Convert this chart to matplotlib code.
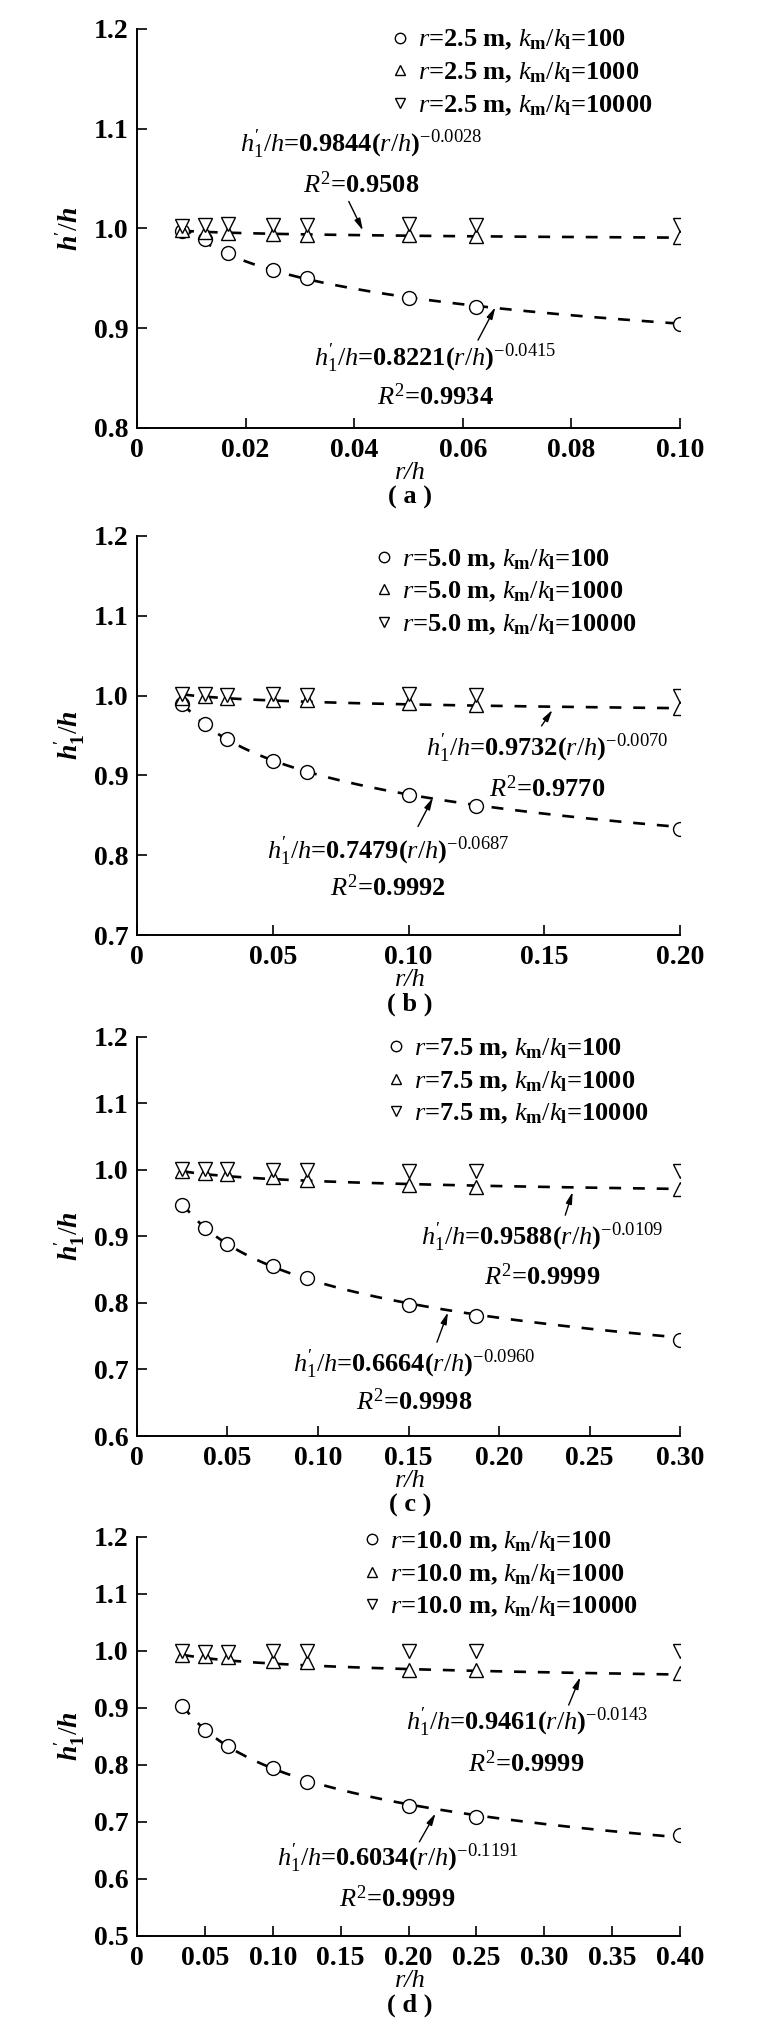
import numpy as np
import matplotlib
matplotlib.use('Agg')
import matplotlib.pyplot as plt

plt.rcParams['font.family'] = ['Liberation Serif', 'DejaVu Serif']
plt.rcParams['font.weight'] = 'bold'
plt.rcParams['mathtext.fontset'] = 'custom'
plt.rcParams['mathtext.rm'] = 'Liberation Serif:style=normal:weight=normal'
plt.rcParams['mathtext.it'] = 'Liberation Serif:style=italic:weight=normal'
plt.rcParams['mathtext.bf'] = 'Liberation Serif:style=normal:weight=bold'
plt.rcParams['mathtext.bfit'] = 'Liberation Serif:style=italic:weight=bold'

# ---- data (r/h and h1'/h) ----
r_vals = ['2.5', '5.0', '7.5', '10.0']

x_a = [0.0083, 0.0125, 0.0167, 0.025, 0.03125, 0.05, 0.0625, 0.10]
k100_a = [0.997, 0.989, 0.975, 0.958, 0.950, 0.930, 0.921, 0.904]
k1000_a = [0.998, 0.996, 0.995, 0.994, 0.993, 0.993, 0.992, 0.991]
k10000_a = [1.002, 1.003, 1.004, 1.003, 1.003, 1.004, 1.003, 1.003]

x_b = [0.0167, 0.025, 0.0333, 0.05, 0.0625, 0.10, 0.125, 0.20]
k100_b = [0.990, 0.964, 0.946, 0.918, 0.904, 0.876, 0.862, 0.833]
k1000_b = [0.997, 0.999, 0.997, 0.995, 0.994, 0.991, 0.988, 0.985]
k10000_b = [1.002, 1.002, 1.001, 1.002, 1.001, 1.002, 1.001, 1.000]

x_c = [0.025, 0.0375, 0.05, 0.075, 0.09375, 0.15, 0.1875, 0.30]
k100_c = [0.948, 0.912, 0.888, 0.855, 0.837, 0.797, 0.780, 0.745]
k1000_c = [0.999, 0.996, 0.994, 0.990, 0.985, 0.977, 0.975, 0.971]
k10000_c = [1.001, 1.001, 1.001, 1.000, 1.000, 0.999, 0.999, 0.999]

x_d = [0.0333, 0.05, 0.0667, 0.10, 0.125, 0.20, 0.25, 0.40]
k100_d = [0.904, 0.862, 0.833, 0.794, 0.770, 0.728, 0.709, 0.677]
k1000_d = [0.993, 0.991, 0.989, 0.983, 0.981, 0.967, 0.967, 0.962]
k10000_d = [0.999, 0.998, 0.998, 1.000, 0.999, 1.000, 1.000, 0.999]

# fitted power laws h1'/h = a (r/h)^b  (upper = k1000 fit, lower = k100 fit)
fit_up = [(0.9844, -0.0028), (0.9732, -0.0070), (0.9588, -0.0109), (0.9461, -0.0143)]
fit_lo = [(0.8221, -0.0415), (0.7479, -0.0687), (0.6664, -0.0960), (0.6034, -0.1191)]
r2_up = ['0.9508', '0.9770', '0.9999', '0.9999']
r2_lo = ['0.9934', '0.9992', '0.9998', '0.9999']

xs = [x_a, x_b, x_c, x_d]
y100 = [k100_a, k100_b, k100_c, k100_d]
y1000 = [k1000_a, k1000_b, k1000_c, k1000_d]
y10000 = [k10000_a, k10000_b, k10000_c, k10000_d]
tags = ['a', 'b', 'c', 'd']

# ---- layout per panel ----
bottoms = [0.7896, 0.5403, 0.2940, 0.0482]
ylims = [(0.8, 1.2), (0.7, 1.2), (0.6, 1.2), (0.5, 1.2)]
xmaxs = [0.10, 0.20, 0.30, 0.40]
xsteps = [0.02, 0.05, 0.05, 0.05]
leg_pos = [(0.472, 1.002), (0.442, 0.972), (0.464, 1.000), (0.420, 1.018)]
# (text x, eq y, R2 y), arrow tail, arrow head -- data coords
ann_up = [((0.0412, 1.084, 1.044), (0.0390, 1.027), (0.0416, 0.998)),
          ((0.151, 0.934, 0.884), (0.149, 0.962), (0.153, 0.982)),
          ((0.2236, 0.898, 0.839), (0.2366, 0.932), (0.2407, 0.967)),
          ((0.287, 0.875, 0.802), (0.318, 0.905), (0.3265, 0.954))]
ann_lo = [((0.0549, 0.870, 0.831), (0.0628, 0.888), (0.0660, 0.921)),
          ((0.0925, 0.805, 0.759), (0.1035, 0.836), (0.109, 0.872)),
          ((0.153, 0.708, 0.651), (0.1657, 0.741), (0.1718, 0.786)),
          ((0.192, 0.636, 0.566), (0.208, 0.665), (0.2199, 0.715))]

fig = plt.figure(figsize=(7.81, 20.34), dpi=100)

dash = dict(color='k', lw=1.9, dashes=(4.5, 4.5))
mk = dict(ls='none', mfc='white', mec='k', mew=1.0)
arrow = dict(arrowstyle='-|>,head_length=0.7,head_width=0.18', color='k', lw=1.0,
             shrinkA=0, shrinkB=0)
eq_fmt = r"$h^{\prime}_1/h$=%.4f($r/h$)$^{-%.4f}$"

for i in range(4):
    ax = fig.add_axes([0.1754, bottoms[i], 0.6953, 0.1962])
    x = np.array(xs[i])

    xx = np.linspace(x[0], x[-1], 200)
    a, b = fit_up[i]
    ax.plot(xx, a * xx ** b, **dash)
    a, b = fit_lo[i]
    ax.plot(xx, a * xx ** b, **dash)

    lab = r'$r$=%s m, $k_{\mathbf{m}}/k_{\mathbf{l}}$=' % r_vals[i]
    ax.plot(x, y100[i], marker='o', ms=10, label=lab + '100', **mk)
    ax.plot(x, y1000[i], marker='^', ms=10.5, label=lab + '1000', **mk)
    ax.plot(x, y10000[i], marker='v', ms=10.5, label=lab + '10000', **mk)

    ax.legend(loc='upper left', bbox_to_anchor=leg_pos[i], frameon=False,
              fontsize=19, handlelength=0.5, handletextpad=0.45,
              labelspacing=0.31, borderpad=0, borderaxespad=0, markerscale=0.75)

    ax.set_xlim(0, xmaxs[i])
    ax.set_ylim(*ylims[i])
    xt = np.arange(0, xmaxs[i] + 1e-9, xsteps[i])
    ax.set_xticks(xt)
    ax.set_xticklabels(['0'] + ['%.2f' % v for v in xt[1:]])
    yt = np.arange(ylims[i][0], ylims[i][1] + 1e-9, 0.1)
    ax.set_yticks(yt)
    ax.set_yticklabels(['%.1f' % v for v in yt])
    ax.tick_params(direction='in', length=7, width=1.2, labelsize=20, pad=7)
    ax.tick_params(axis='y', pad=6)
    for s in ['top', 'right']:
        ax.spines[s].set_visible(False)
    for s in ['left', 'bottom']:
        ax.spines[s].set_linewidth(1.4)

    # fit annotations
    (tx, ty, ry), tail, head = ann_up[i]
    a, b = fit_up[i]
    ax.text(tx, ty, eq_fmt % (a, -b), fontsize=19, ha='center', va='center')
    ax.text(tx, ry, '$R^2$=' + r2_up[i], fontsize=19, ha='center', va='center')
    ax.annotate('', xy=head, xytext=tail, arrowprops=arrow)

    (tx, ty, ry), tail, head = ann_lo[i]
    a, b = fit_lo[i]
    ax.text(tx, ty, eq_fmt % (a, -b), fontsize=19, ha='center', va='center')
    ax.text(tx, ry, '$R^2$=' + r2_lo[i], fontsize=19, ha='center', va='center')
    ax.annotate('', xy=head, xytext=tail, arrowprops=arrow)

    if i == 0:
        ylab = r"$\mathbfit{h}^{\prime}/\mathbfit{h}$"
    else:
        ylab = r"$\mathbfit{h}^{\prime}_{\mathbf{1}}/\mathbfit{h}$"
    ax.text(-0.123, 0.5, ylab, rotation=90, fontsize=20, ha='center', va='center',
            transform=ax.transAxes)
    ax.text(0.503, -0.113, 'r/h', style='italic', fontweight='normal', fontsize=19,
            ha='center', va='center', transform=ax.transAxes)
    ax.text(0.503, -0.173, '( %s )' % tags[i], fontsize=19, ha='center', va='center',
            transform=ax.transAxes)

fig.savefig('out.png', dpi=100)
